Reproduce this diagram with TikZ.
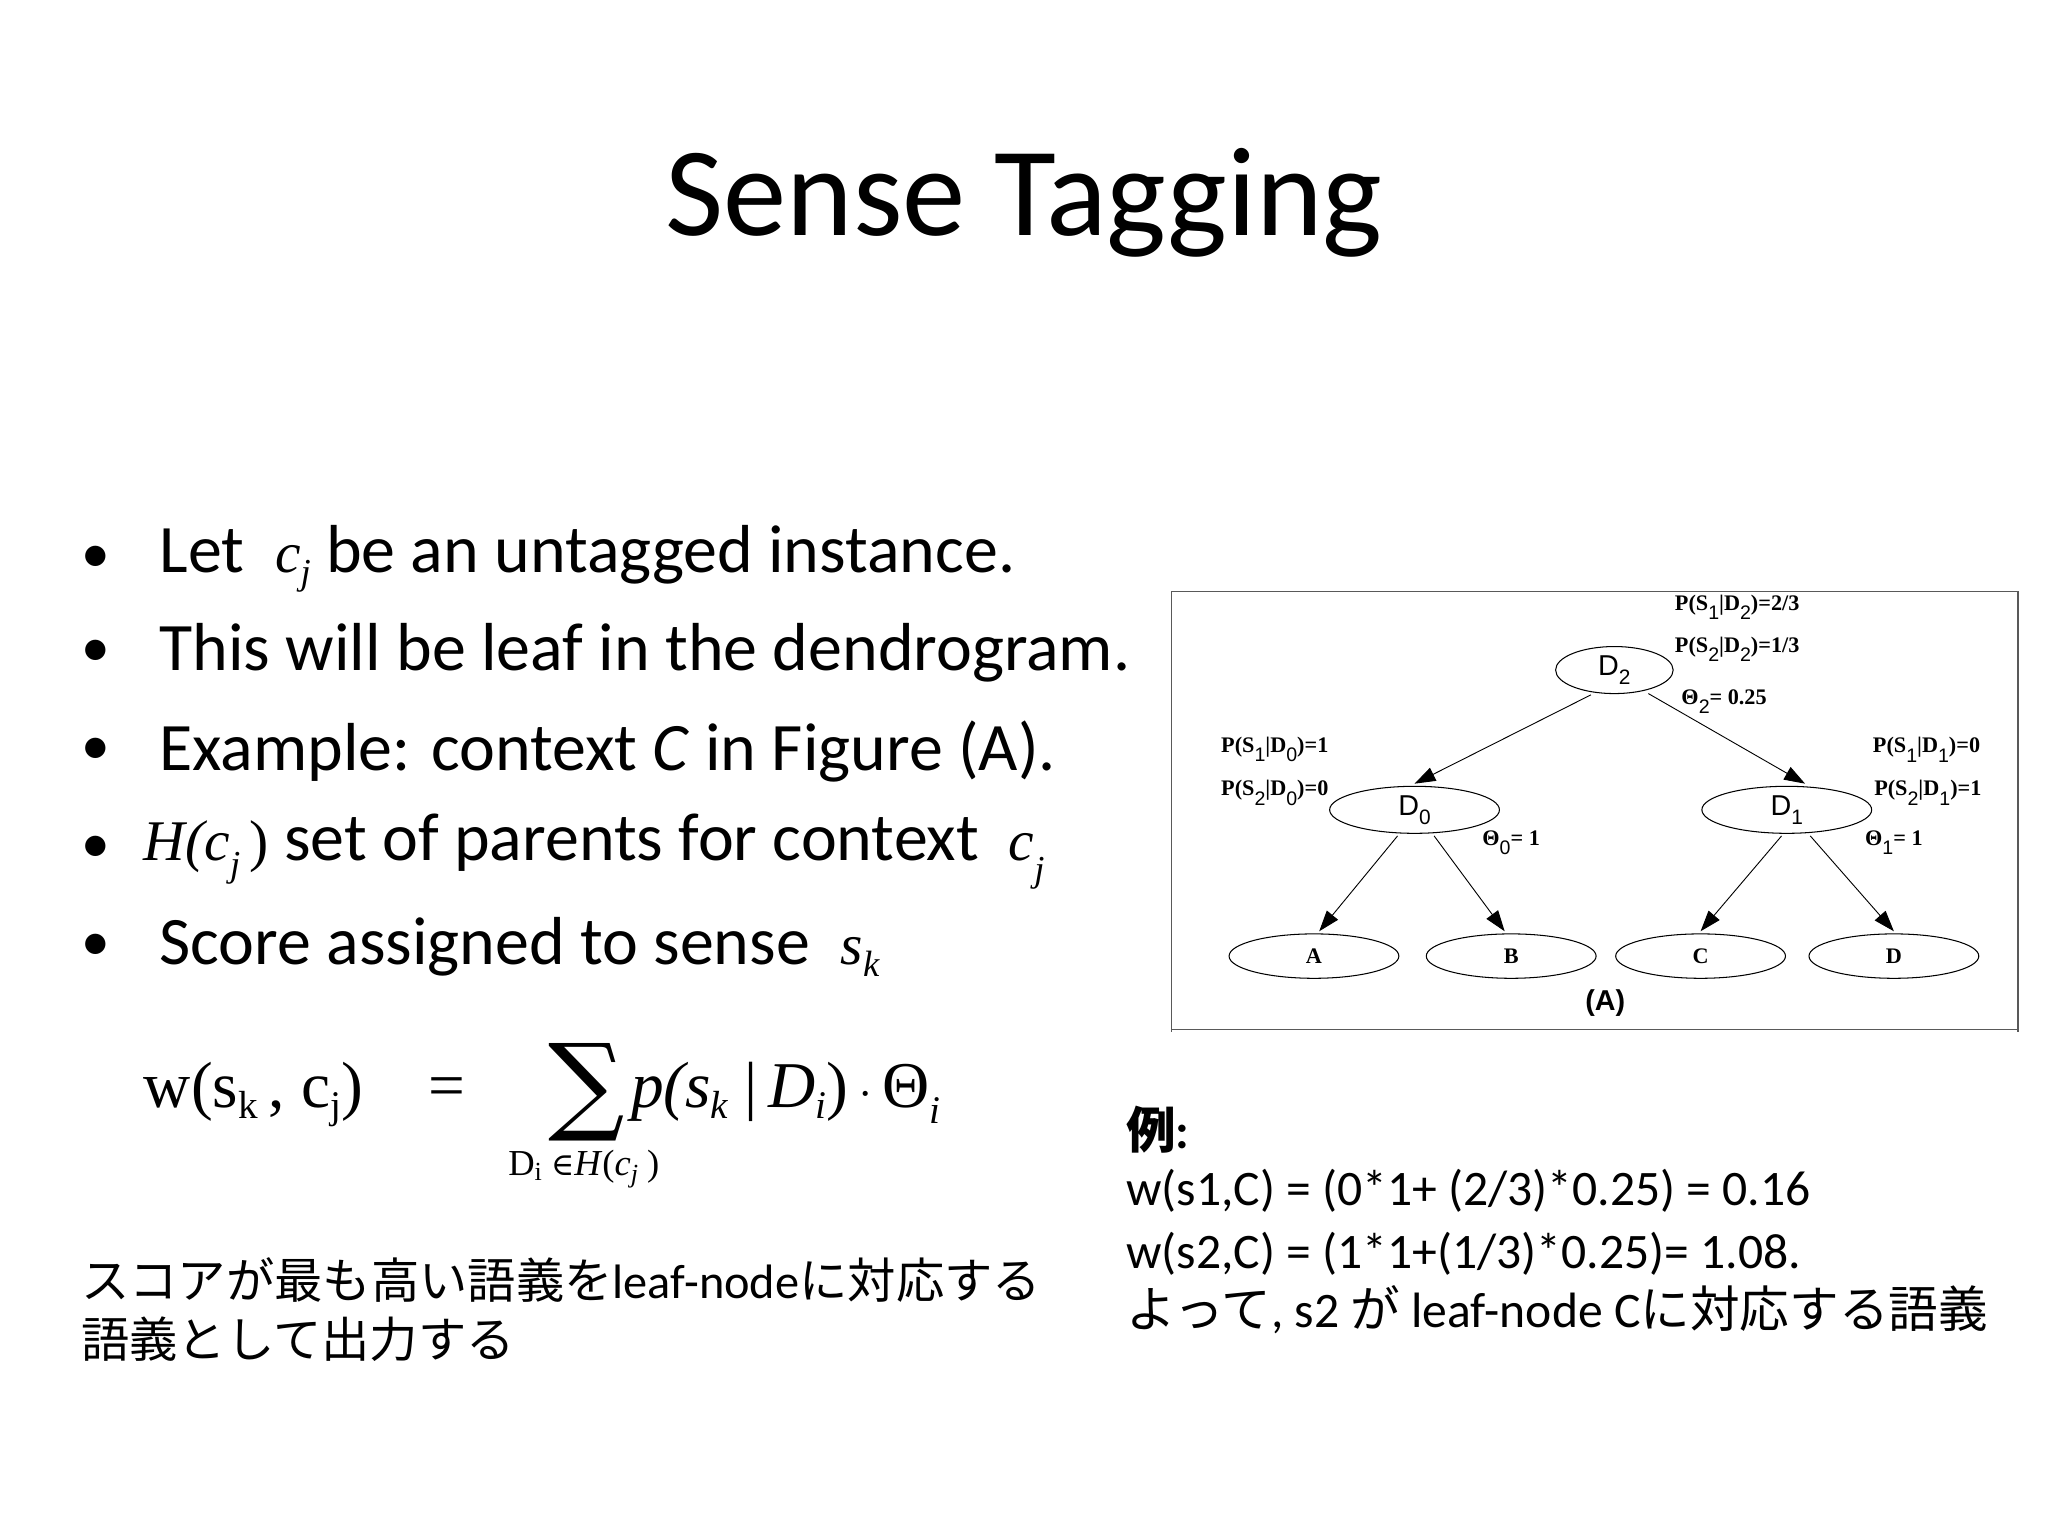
\documentclass[tikz,border=0pt]{standalone}
\usepackage{fontspec}
\setmainfont{Carlito}
\newfontfamily\tms{Liberation Serif}
\newfontfamily\dvs{DejaVu Serif}
\newfontfamily\hel{Liberation Sans}
\newfontfamily\jp{Noto Sans CJK JP}
\usetikzlibrary{arrows.meta,shapes.geometric}
\begin{document}
\begin{tikzpicture}[x=1pt,y=-1pt,
  el/.style={draw,ellipse,line width=0.8pt,minimum width=#1,minimum height=36pt,inner sep=0pt},
  lf/.style={draw,ellipse,line width=0.8pt,minimum width=130pt,minimum height=34pt,inner sep=0pt,font=\tms\bfseries\fontsize{17}{17}\selectfont},
  arr/.style={line width=0.7pt,-{Triangle[length=16pt,width=11pt]}},
  lab/.style={font=\tms\bfseries\fontsize{17}{17}\selectfont,inner sep=0pt},
  bul/.style={anchor=west,font=\fontsize{52}{52}\selectfont,inner sep=0pt},
  ex/.style={anchor=west,font=\fontsize{38}{38}\selectfont,inner sep=0pt},
  fm/.style={anchor=base west,inner sep=0pt,font=\tms\fontsize{50}{50}\selectfont}]
\useasboundingbox (0,0) rectangle (1568,1176);
\node (title) at (784,155) {\fontsize{97}{97}\selectfont Sense Tagging};
% bullets
\foreach \y/\n in {428/b1,500/b2,575/b3,650/b4,725/b5}
  \node[anchor=west,inner sep=0pt,font=\fontsize{44}{44}\selectfont] (\n) at (62,\y) {\textbullet};
\node[bul] (t1) at (122,428) {Let \ {\tms\itshape\fontsize{44}{44}\selectfont c\raisebox{-9pt}{\fontsize{28}{28}\selectfont j}} be an untagged instance.};
\node[bul] (t2) at (122,500) {This will be leaf in the dendrogram.};
\node[bul] (t3) at (122,575) {Example: context \textit{C} in Figure (A).};
\node[bul] (t4) at (110,652) {{\tms\itshape\fontsize{44}{44}\selectfont H(c\raisebox{-12pt}{\fontsize{28}{28}\selectfont j}\,\upshape)} set of parents for context {\tms\itshape\fontsize{44}{44}\selectfont\ c\raisebox{-16pt}{\fontsize{28}{28}\selectfont j}}};
\node[bul] (t5) at (122,725) {Score assigned to sense \ {\tms\itshape\fontsize{44}{44}\selectfont s\raisebox{-9pt}{\fontsize{28}{28}\selectfont k}}};
% formula
\node[fm] (fl) at (110,848) {w(s\raisebox{-8pt}{\fontsize{30}{30}\selectfont k}\,, c\raisebox{-8pt}{\fontsize{30}{30}\selectfont j})};
\node[fm] (feq) at (328,848) {=};
\node[fm] (fsum) at (420,858) {\dvs\fontsize{82}{82}\selectfont ∑};
\node[fm] (fr) at (483,848) {\itshape p(s\raisebox{-8pt}{\fontsize{30}{30}\selectfont k}\ \upshape{|}\,\itshape D\raisebox{-8pt}{\fontsize{30}{30}\selectfont i}\upshape)\,{\dvs\fontsize{30}{30}\selectfont ·}\,Θ\raisebox{-12pt}{\fontsize{30}{30}\selectfont\itshape i}};
\node[inner sep=0pt,font=\tms\fontsize{28}{28}\selectfont] (fs) at (447,895) {D\raisebox{-4pt}{\fontsize{20}{20}\selectfont i} {\dvs\fontsize{24}{24}\selectfont ∈}\textit{H}(\textit{c}\raisebox{-5pt}{\fontsize{20}{20}\selectfont\itshape j} )};
% japanese left
\node[anchor=west,inner sep=0pt,font=\fontsize{37}{37}\selectfont] (j1) at (62,980) {\jp スコアが最も高い語義を\rmfamily leaf-node\jp に対応する};
\node[anchor=west,inner sep=0pt,font=\jp\fontsize{37}{37}\selectfont] (j2) at (62,1025) {語義として出力する};
% example right
\node[ex] (e0) at (862,865) {\jp\bfseries 例\rmfamily\bfseries :};
\node[ex] (e1) at (862,912) {w(s1,C) = (0*1+ (2/3)*0.25) = 0.16};
\node[ex] (e2) at (862,960) {w(s2,C) = (1*1+(1/3)*0.25)= 1.08.};
\node[ex] (e3) at (862,1003) {\jp よって\rmfamily, s2 \jp が\rmfamily\ leaf-node C\jp に対応する語義};
% tree frame
\draw[line width=0.8pt,gray!70!black] (897,790) -- (897,453) -- (1545,453) -- (1545,790);
\draw[line width=0.8pt,gray!70!black] (897,788) -- (1545,788);
\node[el=90pt] (d2) at (1236,513) {\hel\fontsize{22}{22}\selectfont D\raisebox{-7pt}{\fontsize{16}{16}\selectfont 2}};
\node[el=130pt] (d0) at (1083,620) {\hel\fontsize{22}{22}\selectfont D\raisebox{-7pt}{\fontsize{16}{16}\selectfont 0}};
\node[el=130pt] (d1) at (1368,620) {\hel\fontsize{22}{22}\selectfont D\raisebox{-7pt}{\fontsize{16}{16}\selectfont 1}};
\node[lf] (A) at (1006,732) {A};
\node[lf] (B) at (1157,732) {B};
\node[lf] (C) at (1302,732) {C};
\node[lf] (D) at (1450,732) {D};
\draw[arr] (1218,532) -- (1083,600);
\draw[arr] (1262,531) -- (1382,600);
\draw[arr] (1070,640) -- (1010,713);
\draw[arr] (1098,640) -- (1152,713);
\draw[arr] (1364,640) -- (1302,713);
\draw[arr] (1386,640) -- (1450,713);
\newcommand\sbx[1]{\raisebox{-7pt}{\hel\mdseries\fontsize{15}{15}\selectfont #1}}
\node[lab] (p1) at (1330,465) {P(S\sbx{1}|D\sbx{2})=2/3};
\node[lab] (p2) at (1330,497) {P(S\sbx{2}|D\sbx{2})=1/3};
\node[lab] (th2) at (1320,537) {Θ\sbx{2}= 0.25};
\node[lab] (p3) at (976,574) {P(S\sbx{1}|D\sbx{0})=1};
\node[lab] (p4) at (976,607) {P(S\sbx{2}|D\sbx{0})=0};
\node[lab] (th0) at (1157,645) {Θ\sbx{0}= 1};
\node[lab] (p5) at (1475,574) {P(S\sbx{1}|D\sbx{1})=0};
\node[lab] (p6) at (1476,607) {P(S\sbx{2}|D\sbx{1})=1};
\node[lab] (th1) at (1450,645) {Θ\sbx{1}= 1};
\node[font=\hel\bfseries\fontsize{22}{22}\selectfont] (cap) at (1229,768) {(A)};
\end{tikzpicture}
\end{document}
